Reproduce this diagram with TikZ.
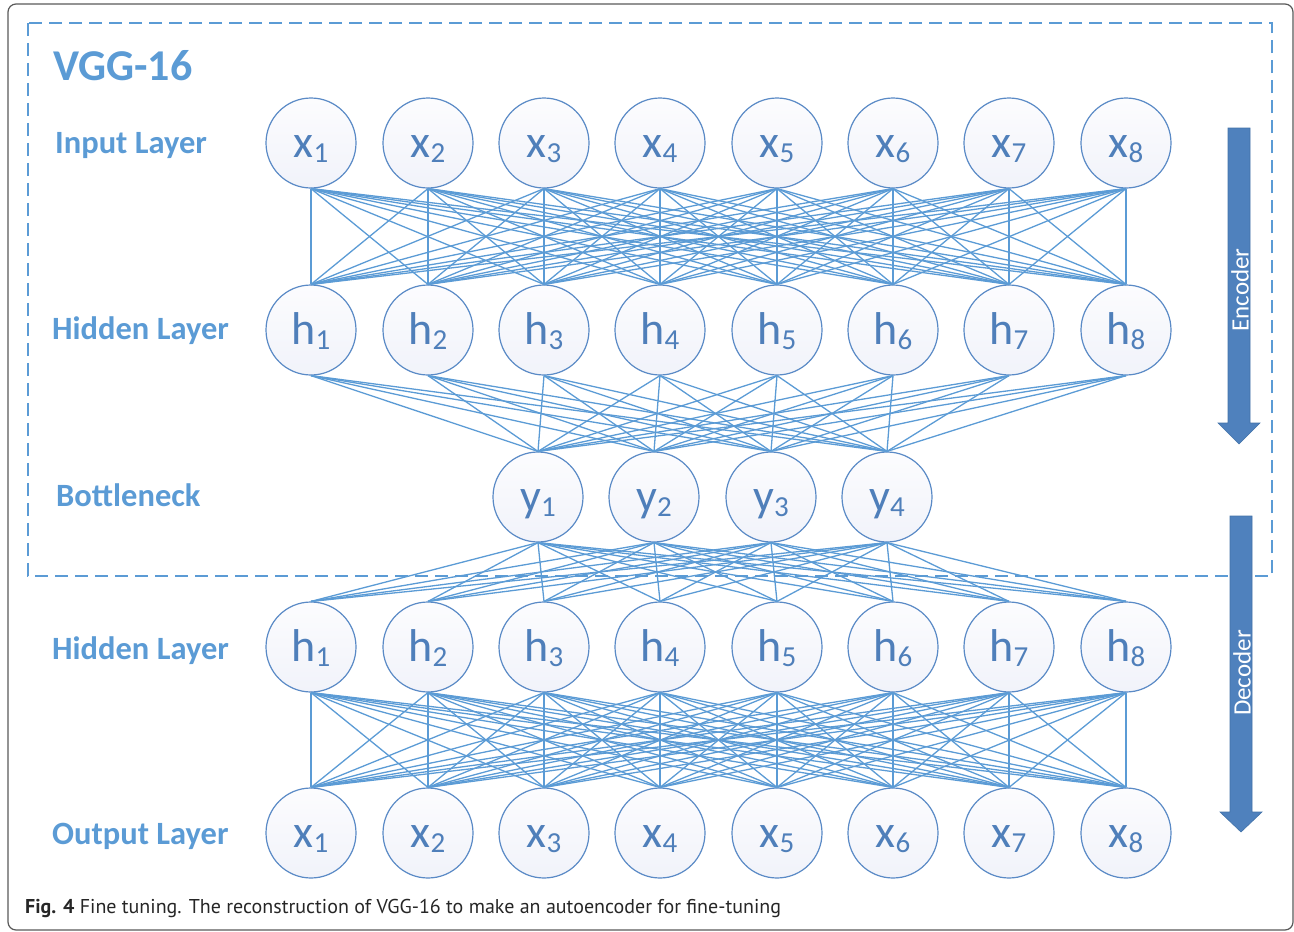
\documentclass[tikz,border=0pt]{standalone}
\usepackage{fontspec}
\setmainfont{Carlito}
\newfontfamily\capfont{PT Sans}
\definecolor{lblue}{HTML}{5B9BD5}
\definecolor{edgeblue}{HTML}{5B9BD5}
\definecolor{nodeline}{HTML}{5A8AC6}
\definecolor{nodetext}{HTML}{4F7FBA}
\definecolor{arrowblue}{HTML}{4F81BD}
\definecolor{arrowedge}{HTML}{4272A8}
\definecolor{nodefillA}{HTML}{FCFCFE}
\definecolor{nodefillB}{HTML}{F1F3FA}
\newcommand\lsub[1]{\raisebox{-5pt}{\fontsize{29}{29}\selectfont#1}}
\begin{document}
\begin{tikzpicture}[x=1pt,y=-1pt,
  neuron/.style={circle, draw=nodeline, line width=1.2pt, minimum size=90pt,
    inner sep=0pt, top color=nodefillA, bottom color=nodefillB,
    text=nodetext, font=\fontsize{46}{46}\selectfont,
    text height=32pt, text depth=4pt},
  edge/.style={draw=edgeblue, line width=1.3pt},
  layerlabel/.style={anchor=base west, text=lblue, font=\bfseries\fontsize{32.5}{32.5}\selectfont, inner sep=0pt},
  arrowtext/.style={rotate=90, text=white, font=\fontsize{25}{25}\selectfont, inner sep=0pt},
  bigarrow/.style={fill=arrowblue, draw=arrowedge, line width=0.6pt}
]
\useasboundingbox (0,0) rectangle (1294,932);

% outer frame and the dashed VGG-16 box
\draw[black!65, line width=1.2pt, rounded corners=8pt] (8,4) rectangle (1293,930);
\draw[lblue, line width=1.5pt, dash pattern=on 13pt off 7pt] (28,23) rectangle (1272,576);

% layer labels
\node[anchor=base west, text=lblue, font=\bfseries\fontsize{44}{44}\selectfont, inner sep=0pt] (vgg) at (53,80) {VGG-16};
\node[layerlabel] (linput) at (55,153) {Input Layer};
\node[layerlabel] (lhid1) at (52,339) {Hidden Layer};
\node[layerlabel] (lbott) at (56,506) {Bottleneck};
\node[layerlabel] (lhid2) at (52,659) {Hidden Layer};
\node[layerlabel] (loutput) at (52,844) {Output Layer};

% neurons
\foreach \i/\px in {1/311,2/428,3/544,4/660,5/777,6/893,7/1009,8/1126}{
  \node[neuron] (x\i) at (\px,143) {x\lsub{\i}};
  \node[neuron] (h\i) at (\px,330) {h\lsub{\i}};
  \node[neuron] (d\i) at (\px,647) {h\lsub{\i}};
  \node[neuron] (o\i) at (\px,833) {x\lsub{\i}};
}
\foreach \i/\px in {1/538,2/654,3/771,4/887}{
  \node[neuron] (y\i) at (\px,497) {y\lsub{\i}};
}

% full connections between consecutive layers
\foreach \i in {1,...,8}{
  \foreach \j in {1,...,8}{
    \draw[edge] (x\i.south) -- (h\j.north);
    \draw[edge] (d\i.south) -- (o\j.north);
  }
  \foreach \j in {1,...,4}{
    \draw[edge] (h\i.south) -- (y\j.north);
    \draw[edge] (y\j.south) -- (d\i.north);
  }
}

% encoder / decoder arrows
\draw[bigarrow] (1228,128) -- (1250,128) -- (1250,423) -- (1260,423) -- (1239,444)
  -- (1218,423) -- (1228,423) -- cycle;
\node[arrowtext] (enc) at (1240,290) {Encoder};
\draw[bigarrow] (1230,516) -- (1252,516) -- (1252,812) -- (1262,812) -- (1241,832)
  -- (1220,812) -- (1230,812) -- cycle;
\node[arrowtext] (dec) at (1242,673) {Decoder};

% caption
\node[anchor=base west, inner sep=0pt, text=black!85, font=\capfont\fontsize{20}{20}\selectfont] (cap) at (25,913)
  {\textbf{Fig. 4} Fine tuning. The reconstruction of VGG-16 to make an autoencoder for fine-tuning};
\end{tikzpicture}
\end{document}
